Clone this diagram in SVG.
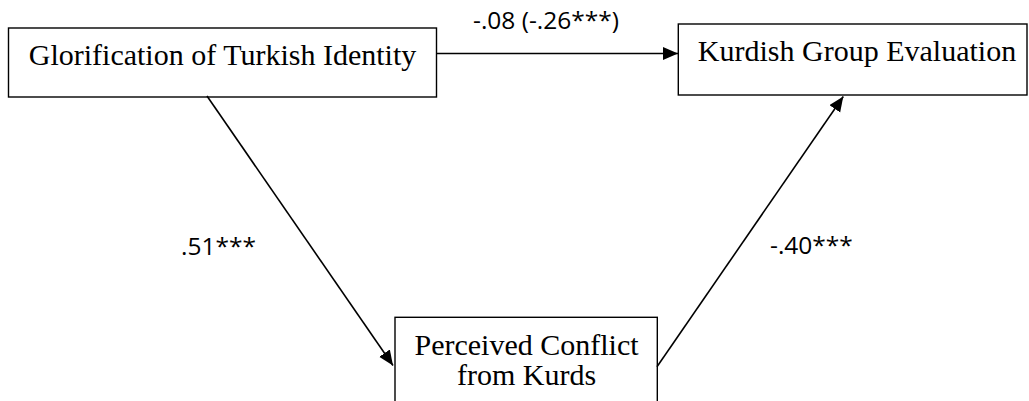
<svg xmlns="http://www.w3.org/2000/svg" width="1029" height="401" viewBox="0 0 1029 401">
<style>
.box{fill:#fff;stroke:#000;stroke-width:1.4}
.nt{font-family:"Liberation Serif","Times New Roman",serif;font-size:30px;fill:#000;text-anchor:middle}
.lbl{font-family:"Open Sans","DejaVu Sans",sans-serif;font-size:24.5px;fill:#000}
.edge{stroke:#000;stroke-width:1.6;fill:none;marker-end:url(#ah)}
</style>
<defs>
<marker id="ah" markerUnits="userSpaceOnUse" markerWidth="16" markerHeight="14" refX="15" refY="6.5" orient="auto">
<path d="M0,0 L15,6.5 L0,13 z" fill="#000"/>
</marker>
</defs>
<rect width="1029" height="401" fill="#fff"/>
<g id="node-glorification">
<rect class="box" x="8.5" y="28" width="428" height="69"/>
<text class="nt" x="222.5" y="65">Glorification of Turkish Identity</text>
</g>
<g id="node-kurdish-eval">
<rect class="box" x="678.3" y="24" width="348.7" height="71"/>
<text class="nt" x="857" y="61">Kurdish Group Evaluation</text>
</g>
<g id="node-perceived-conflict">
<rect class="box" x="395" y="317.3" width="262.3" height="100"/>
<text class="nt" x="526.5" y="355">Perceived Conflict</text>
<text class="nt" x="526.5" y="385">from Kurds</text>
</g>
<g id="connectors">
<line class="edge" x1="436.5" y1="53.5" x2="678" y2="53.5"/>
<line class="edge" x1="207" y1="96" x2="393" y2="365.5"/>
<line class="edge" x1="657" y1="366.7" x2="843.3" y2="96.5"/>
</g>
<g id="labels">
<text class="lbl" x="473" y="28.5">-.08 (-.26***)</text>
<text class="lbl" x="181" y="255">.51***</text>
<text class="lbl" x="770" y="254">-.40***</text>
</g>
</svg>
